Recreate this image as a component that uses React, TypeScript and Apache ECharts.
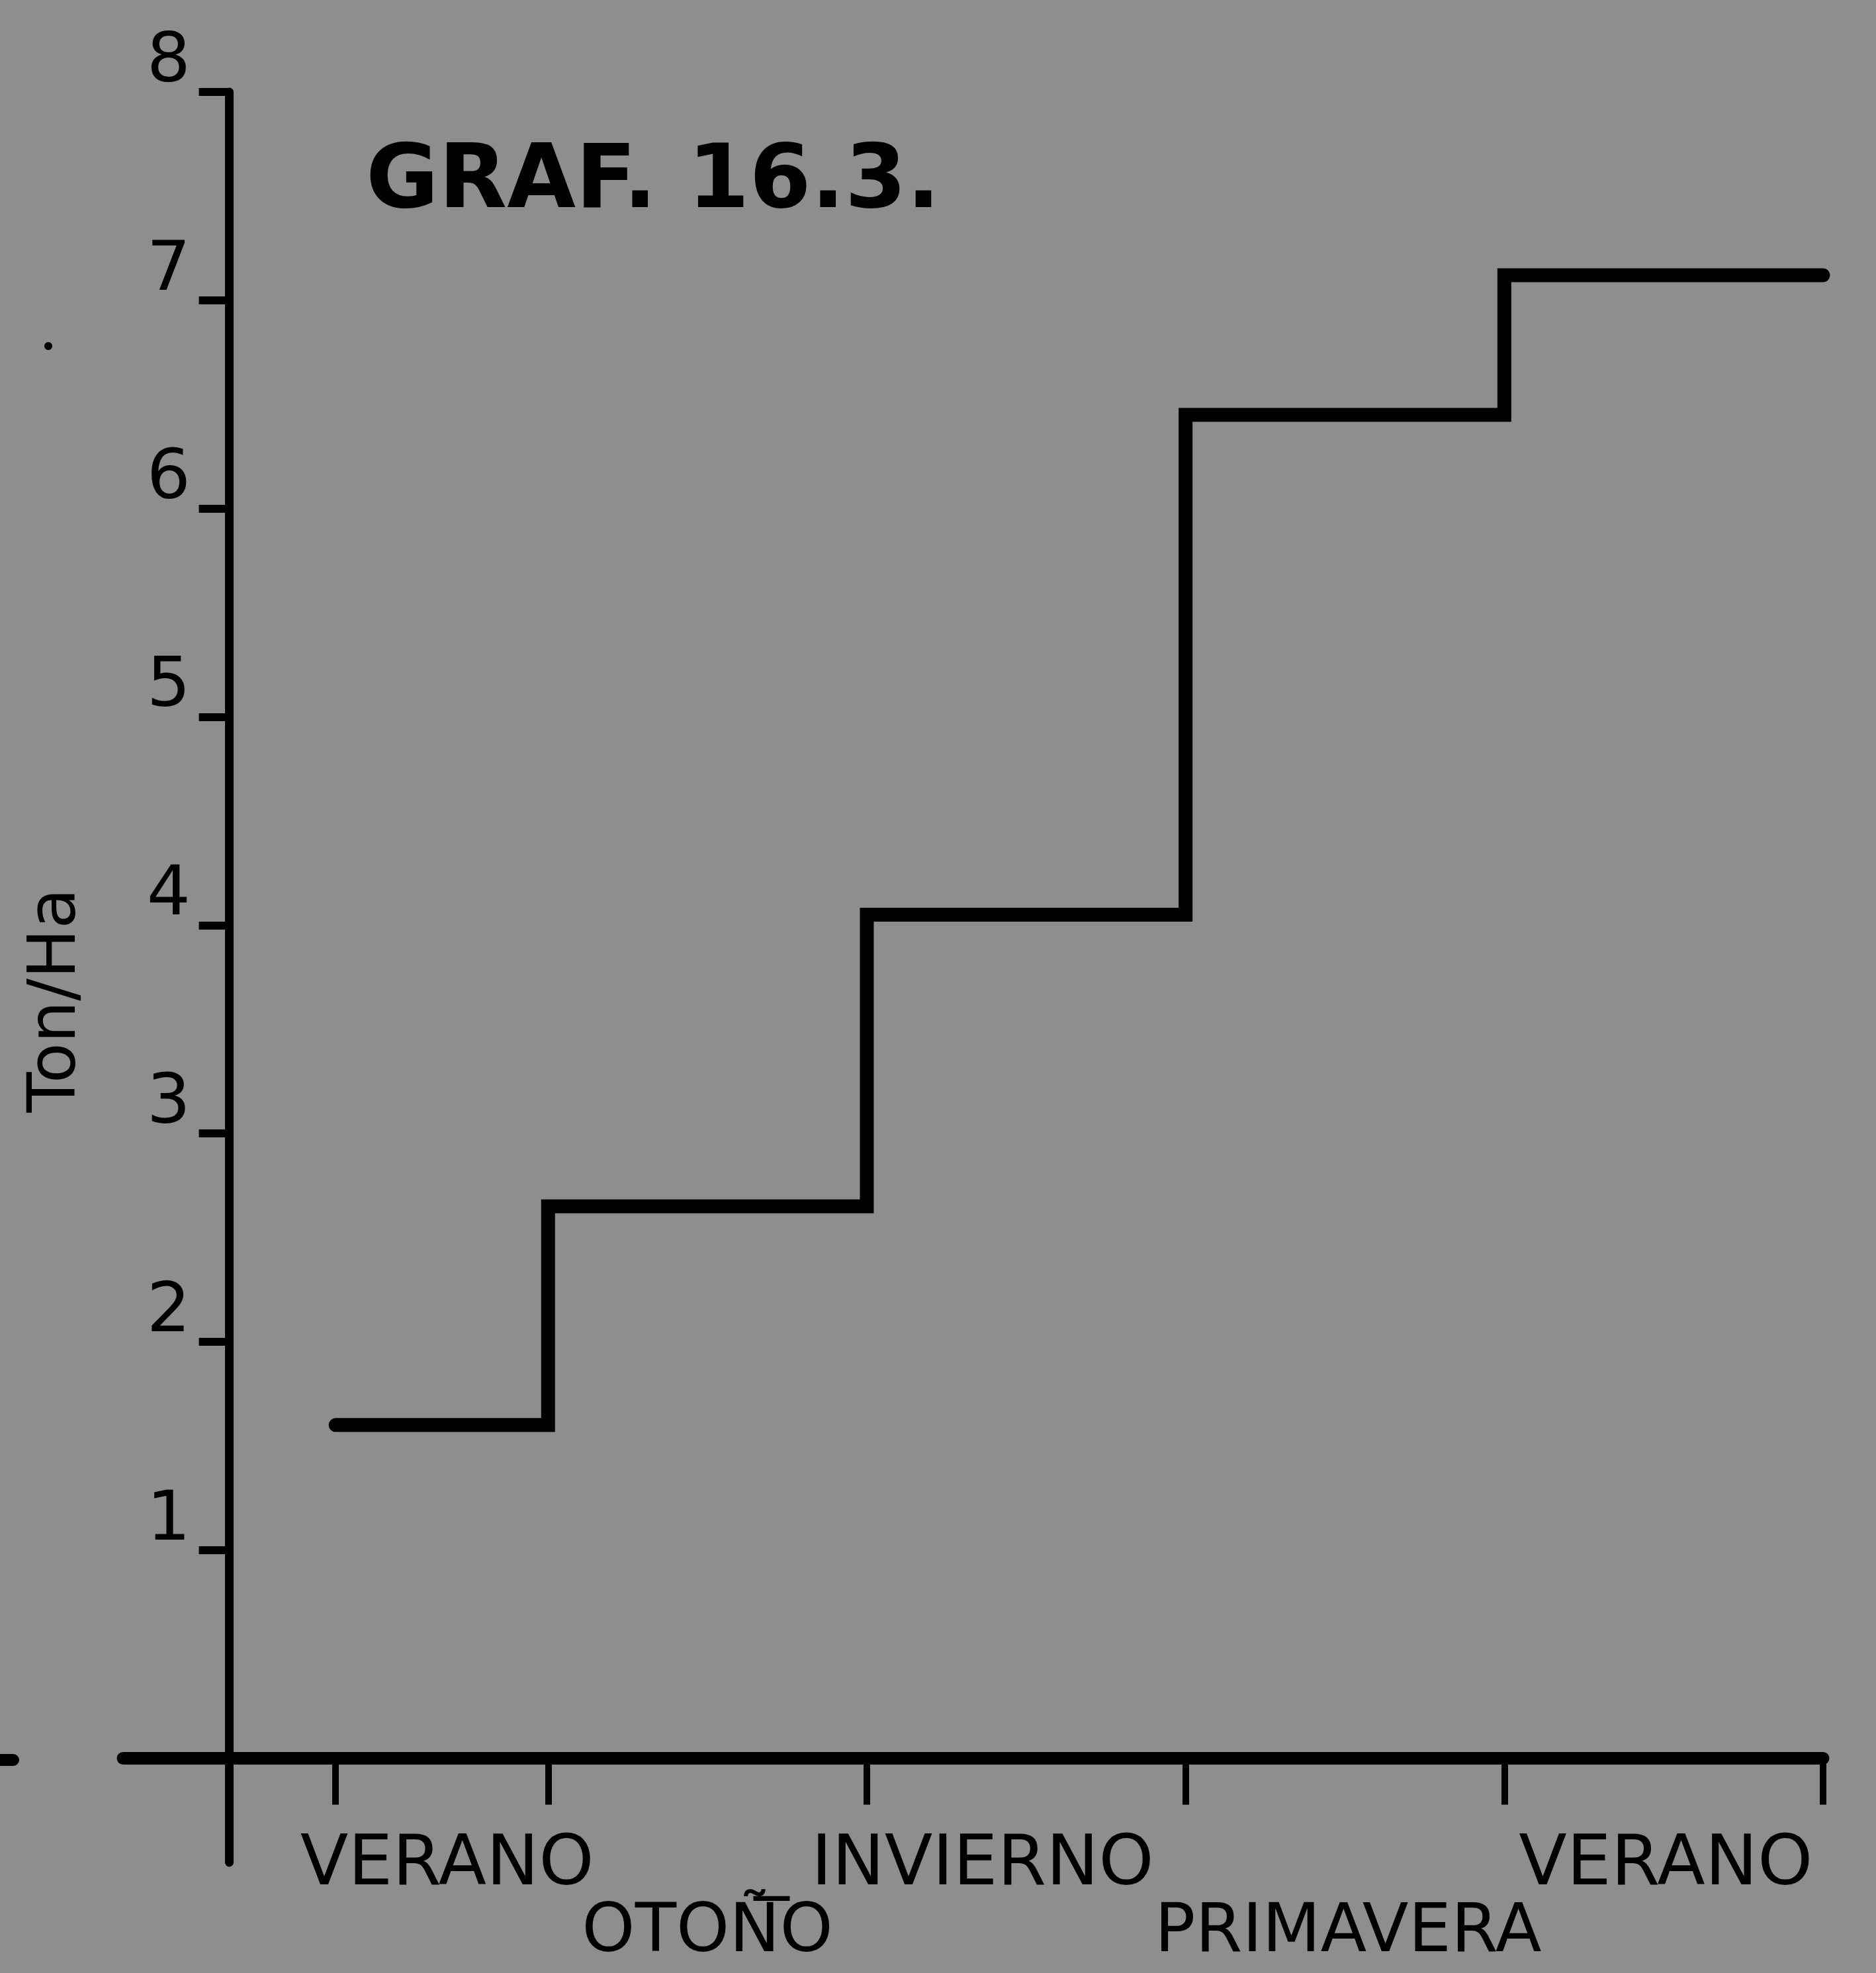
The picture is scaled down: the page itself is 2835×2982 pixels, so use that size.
import React, { useEffect, useRef } from "react";
import * as echarts from "echarts";

// Season boundaries on the x axis (months from the start of the record)
const seasonBoundaries = [1, 3, 6, 9, 12, 15];
// Yield reached in each season (Ton/Ha)
const yieldValues = [1.6, 2.65, 4.05, 6.45, 7.12];
// Season names under the x axis: upper row and lower row
const upperSeasonLabels = ["VERANO", "_ INVIERNO", "VERANO"];
const upperSeasonPositions = [2.05, 6.82, 13.52];
const lowerSeasonLabels = ["OTOÑO", "PRIMAVERA"];
const lowerSeasonPositions = [4.5, 10.53];
// Y axis ticks
const yTickValues = [1, 2, 3, 4, 5, 6, 7, 8];
const titleText = "GRAF. 16.3.";
const yAxisTitle = "Ton/Ha";

const FONT = "DejaVu Sans";
const INK = "#000000";
const PAPER = "#8e8e8e";

const labelFor = (positions: number[], labels: string[]) => (value: number) => {
  const i = positions.findIndex((p) => Math.abs(p - value) < 1e-6);
  return i < 0 ? "" : labels[i];
};

export default function App() {
  const ref = useRef<HTMLDivElement>(null);

  useEffect(() => {
    if (!ref.current) return;
    const chart = echarts.init(ref.current, undefined, { renderer: "svg" });

    const stepData = seasonBoundaries.map((b, i) => [
      b,
      yieldValues[Math.min(i, yieldValues.length - 1)],
    ]);

    const seasonLabelStyle = {
      show: true,
      showMinLabel: true,
      showMaxLabel: true,
      hideOverlap: false,
      fontFamily: FONT,
      color: INK,
    };

    chart.setOption({
      animation: false,
      backgroundColor: PAPER,
      title: {
        text: titleText,
        left: 553,
        top: 200,
        padding: 0,
        textStyle: {
          fontFamily: FONT,
          fontSize: 134,
          fontWeight: "bold",
          color: INK,
        },
      },
      grid: {
        left: 186,
        top: 139,
        width: 2569,
        height: 2676,
        containLabel: false,
        outerBoundsMode: "none",
      },
      xAxis: [
        {
          type: "value",
          position: "bottom",
          min: -1,
          max: 15,
          axisLine: {
            onZero: true,
            lineStyle: { color: INK, width: 19, cap: "round" },
          },
          axisTick: {
            show: true,
            customValues: seasonBoundaries,
            length: 70,
            lineStyle: { color: INK, width: 10 },
          },
          axisLabel: {
            ...seasonLabelStyle,
            fontSize: 106,
            lineHeight: 113,
            customValues: upperSeasonPositions,
            margin: -60,
            formatter: labelFor(upperSeasonPositions, upperSeasonLabels),
          },
          splitLine: { show: false },
        },
        {
          type: "value",
          position: "bottom",
          offset: 0,
          min: -1,
          max: 15,
          axisLine: { show: false, onZero: false },
          axisTick: { show: false },
          axisLabel: {
            ...seasonLabelStyle,
            fontSize: 102,
            lineHeight: 92,
            customValues: lowerSeasonPositions,
            margin: 52,
            formatter: labelFor(lowerSeasonPositions, lowerSeasonLabels),
          },
          splitLine: { show: false },
        },
      ],
      yAxis: {
        type: "value",
        min: -0.5,
        max: 8,
        axisLine: {
          show: true,
          onZero: true,
          lineStyle: { color: INK, width: 13 },
        },
        axisTick: {
          show: true,
          customValues: yTickValues,
          length: 46,
          lineStyle: { color: INK, width: 12 },
        },
        axisLabel: {
          show: true,
          customValues: yTickValues,
          showMinLabel: true,
          showMaxLabel: true,
          margin: -102,
          verticalAlign: "bottom",
          fontFamily: FONT,
          fontSize: 104,
          color: INK,
        },
        splitLine: { show: false },
      },
      graphic: [
        {
          type: "text",
          x: 78,
          y: 1512,
          rotation: Math.PI / 2,
          style: {
            text: yAxisTitle,
            fontFamily: FONT,
            fontSize: 100,
            fill: INK,
            align: "center",
            verticalAlign: "middle",
          },
        },
        {
          type: "line",
          shape: { x1: 0, y1: 2660, x2: 20, y2: 2660 },
          style: { stroke: INK, lineWidth: 18, lineCap: "round" },
        },
        {
          type: "circle",
          shape: { cx: 73, cy: 523, r: 6 },
          style: { fill: INK },
        },
      ],
      series: [
        {
          type: "line",
          xAxisIndex: 0,
          data: stepData,
          step: "end",
          symbol: "none",
          lineStyle: {
            color: INK,
            width: 21,
            cap: "round",
            join: "miter",
          },
        },
      ],
    });

    return () => chart.dispose();
  }, []);

  return (
    <div
      ref={ref}
      style={{
        position: "absolute",
        left: 0,
        top: 0,
        width: "2835px",
        height: "2982px",
      }}
    />
  );
}
